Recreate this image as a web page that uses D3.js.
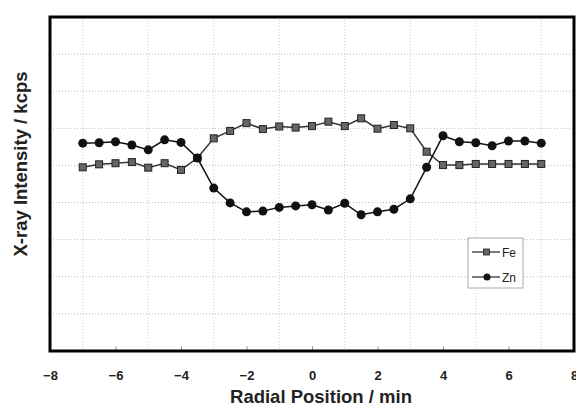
<!DOCTYPE html>
<html>
<head>
<meta charset="utf-8">
<script src="https://cdn.jsdelivr.net/npm/d3@7"></script>
<style>
  body { margin: 0; background: #fff; }
  svg { font-family: "Liberation Sans", Arial, sans-serif; }
</style>
</head>
<body>
<div id="chart"></div>
<script>
// radial positions (min)
const positions = [-7, -6.5, -6, -5.5, -5, -4.5, -4, -3.5, -3, -2.5, -2, -1.5, -1, -0.5, 0,
                   0.5, 1, 1.5, 2, 2.5, 3, 3.5, 4, 4.5, 5, 5.5, 6, 6.5, 7];
// intensity, arbitrary units (no y labels on the original)
const feValues = [4.95, 5.03, 5.06, 5.09, 4.94, 5.06, 4.88, 5.2, 5.73, 5.93, 6.14, 5.98, 6.05, 6.02, 6.06,
                  6.18, 6.06, 6.27, 5.99, 6.09, 6.0, 5.37, 5.01, 5.01, 5.04, 5.04, 5.04, 5.04, 5.04];
const znValues = [5.6, 5.61, 5.64, 5.55, 5.42, 5.69, 5.62, 5.2, 4.39, 3.99, 3.75, 3.77, 3.87, 3.91, 3.94,
                  3.8, 3.98, 3.67, 3.75, 3.82, 4.1, 4.95, 5.8, 5.64, 5.61, 5.53, 5.66, 5.66, 5.6];
const xTicks = [-8, -6, -4, -2, 0, 2, 4, 6, 8];
const xGrid = [-7, -5, -3, -1, 1, 3, 5, 7];
const yGrid = [1, 2, 3, 4, 5, 6, 7, 8];

const width = 576, height = 406;
const margin = { top: 17, right: 2, bottom: 55, left: 50 };

const svg = d3.select('#chart').append('svg')
    .attr('width', width)
    .attr('height', height);

const x = d3.scaleLinear().domain([-8, 8]).range([margin.left, width - margin.right]);
const y = d3.scaleLinear().domain([0, 9]).range([height - margin.bottom, margin.top]);

// dotted grid
svg.append('g').selectAll('line').data(yGrid).enter().append('line')
    .attr('x1', x(-8)).attr('x2', x(8))
    .attr('y1', d => y(d)).attr('y2', d => y(d))
    .attr('stroke', '#bbb').attr('stroke-width', 1).attr('stroke-dasharray', '1,2');
svg.append('g').selectAll('line').data(xGrid).enter().append('line')
    .attr('x1', d => x(d)).attr('x2', d => x(d))
    .attr('y1', y(0)).attr('y2', y(9))
    .attr('stroke', '#ccc').attr('stroke-width', 1).attr('stroke-dasharray', '1,2');

// x axis: inner ticks + labels
const xAxis = svg.append('g')
    .attr('transform', `translate(0, ${y(0)})`)
    .call(d3.axisBottom(x).tickValues(xTicks).tickSizeInner(-5).tickSizeOuter(0).tickPadding(20)
        .tickFormat(d => d < 0 ? '\u2212' + Math.abs(d) : d));
xAxis.select('.domain').remove();
xAxis.selectAll('.tick line').attr('stroke', '#999');
xAxis.selectAll('text').attr('font-size', 13).attr('fill', '#222').attr('font-weight', 'bold');

// lines and markers
const line = d3.line().x(d => x(d[0])).y(d => y(d[1]));
const fe = positions.map((p, i) => [p, feValues[i]]);
const zn = positions.map((p, i) => [p, znValues[i]]);

svg.append('path').datum(fe).attr('d', line)
    .attr('fill', 'none').attr('stroke', '#333').attr('stroke-width', 1.5);
svg.append('path').datum(zn).attr('d', line)
    .attr('fill', 'none').attr('stroke', '#111').attr('stroke-width', 1.5);

svg.append('g').selectAll('rect').data(fe).enter().append('rect')
    .attr('x', d => x(d[0]) - 3.5).attr('y', d => y(d[1]) - 3.5)
    .attr('width', 7).attr('height', 7)
    .attr('fill', '#666').attr('stroke', '#222').attr('stroke-width', 1);
svg.append('g').selectAll('circle').data(zn).enter().append('circle')
    .attr('cx', d => x(d[0])).attr('cy', d => y(d[1]))
    .attr('r', 4.5).attr('fill', '#111');

// frame
svg.append('rect')
    .attr('x', x(-8)).attr('y', y(9))
    .attr('width', x(8) - x(-8)).attr('height', y(0) - y(9))
    .attr('fill', 'none').attr('stroke', '#000').attr('stroke-width', 3);

// legend
const legend = svg.append('g').attr('transform', 'translate(468, 238)');
legend.append('rect').attr('width', 55).attr('height', 50)
    .attr('fill', '#fff').attr('stroke', '#aaa').attr('stroke-width', 1);
const legItems = [['Fe', 'square'], ['Zn', 'circle']];
legItems.forEach((it, i) => {
    const gy = 14 + i * 25;
    legend.append('line').attr('x1', 4).attr('x2', 32).attr('y1', gy).attr('y2', gy)
        .attr('stroke', '#222').attr('stroke-width', 1.2);
    if (it[1] === 'square') {
        legend.append('rect').attr('x', 15.5).attr('y', gy - 3).attr('width', 6).attr('height', 6)
            .attr('fill', '#666').attr('stroke', '#222').attr('stroke-width', 0.8);
    } else {
        legend.append('circle').attr('cx', 19).attr('cy', gy).attr('r', 3.5).attr('fill', '#111');
    }
    legend.append('text').attr('x', 34).attr('y', gy + 4.5)
        .attr('font-size', 12).attr('fill', '#222').text(it[0]);
});

// axis titles
svg.append('text')
    .attr('x', 321).attr('y', 403)
    .attr('text-anchor', 'middle').attr('font-size', 18.5).attr('font-weight', 'bold')
    .attr('fill', '#222')
    .text('Radial Position / min');
svg.append('text')
    .attr('transform', 'translate(27, 164) rotate(-90)')
    .attr('text-anchor', 'middle').attr('font-size', 18.5).attr('font-weight', 'bold')
    .attr('fill', '#222')
    .text('X-ray Intensity / kcps');
</script>
</body>
</html>
